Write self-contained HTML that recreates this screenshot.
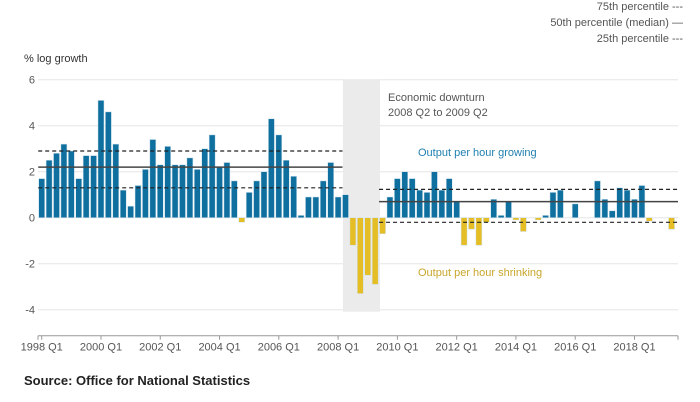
<!DOCTYPE html>
<html><head><meta charset="utf-8"><style>
html,body{margin:0;padding:0;background:#fff;width:700px;height:402px;overflow:hidden}
svg{display:block;font-family:"Liberation Sans",sans-serif}
</style></head><body>
<svg id="chart" width="700" height="402">
<g id="legend" font-size="11" fill="#555" text-anchor="end">
<text x="683" y="10">75th percentile ---</text>
<text x="683" y="26">50th percentile (median) —</text>
<text x="683" y="42">25th percentile ---</text>
</g>
<text x="24" y="62" font-size="11" fill="#333">% log growth</text>
<g id="grid"></g>
<g id="shade"></g>
<g id="bars"></g>
<g id="lines"></g>
<g id="axis"></g>
<text x="388" y="101" font-size="11" fill="#555">Economic downturn</text>
<text x="388" y="116" font-size="11" fill="#555">2008 Q2 to 2009 Q2</text>
<text x="418" y="156" font-size="11" fill="#1f7fb0">Output per hour growing</text>
<text x="418" y="276" font-size="11" fill="#c9a62a">Output per hour shrinking</text>
<text x="24" y="385" font-size="13" font-weight="bold" fill="#222">Source: Office for National Statistics</text>
</svg>
<script>
const values = [1.7,2.5,2.8,3.2,2.9,1.7,2.7,2.7,5.1,4.6,3.2,1.2,0.5,1.4,2.1,3.4,2.3,3.1,2.3,2.3,2.6,2.1,3.0,3.6,2.2,2.4,1.6,-0.2,1.1,1.6,
2.0,4.3,3.6,2.5,1.8,0.1,0.9,0.9,1.6,2.4,0.9,1.0,-1.2,-3.3,-2.5,-2.9,-0.7,0.9,1.7,2.0,1.7,1.2,1.1,2.0,1.2,1.7,
0.7,-1.2,-0.5,-1.2,-0.2,0.8,0.1,0.7,-0.1,-0.6,0,-0.1,0.1,1.1,1.2,0,0.6,0,0,1.6,0.8,0.3,1.3,1.2,0.8,1.4,-0.15,0,0,-0.5];
const yTicks = [6,4,2,0,-2,-4];
const xTickLabels = ["1998 Q1","2000 Q1","2002 Q1","2004 Q1","2006 Q1","2008 Q1","2010 Q1","2012 Q1","2014 Q1","2016 Q1","2018 Q1"];
const period1 = {start:0, end:41, p75:2.9, p50:2.2, p25:1.3};
const period2 = {start:46, end:85, p75:1.23, p50:0.7, p25:-0.2};
const downturn = [41,45];

const NS="http://www.w3.org/2000/svg";
const L=38,R=678,X0=41.7,STEP=7.41,Y0=217.7,UNIT=23,AXY=335.7;
const x=i=>X0+STEP*i, y=v=>Y0-v*UNIT;
function mk(t,a,p){const e=document.createElementNS(NS,t);for(const k in a)e.setAttribute(k,a[k]);p.appendChild(e);return e;}
const grid=document.getElementById('grid');
yTicks.forEach(v=>{
  const l=mk('line',{x1:L,x2:R,y1:y(v),y2:y(v),stroke:'#e6e6e6','stroke-width':1},grid);
  
  
  const t=mk('text',{x:35,y:y(v)+4,'text-anchor':'end','font-size':11,fill:'#555'},grid);
  t.textContent=v;
  
  
});
const sh=mk('rect',{x:x(downturn[0])-STEP*0.35,y:y(6),width:x(downturn[1])-x(downturn[0])+STEP*1.0,height:AXY-y(6)-24,fill:'#ebebeb'},document.getElementById('shade'));


const bars=document.getElementById('bars');
values.forEach((v,i)=>{
  if(v===0)return;
  const r=mk('rect',{x:x(i)-3,width:6,y:Math.min(y(v),Y0),height:Math.abs(y(v)-Y0),fill:v>0?'#0f6f9e':'#e5bd24',stroke:'#cfe3ee','stroke-width':0.5},bars);
  
  
});
const lines=document.getElementById('lines');
[period1,period2].forEach(p=>{
  const a=x(p.start)-3.5,b=p===period1?x(p.end)-3:R;
  [['p75',true],['p50',false],['p25',true]].forEach(([k,d])=>{
    const l=mk('line',{x1:a,x2:b,y1:y(p[k]),y2:y(p[k]),stroke:d?'#222':'#444','stroke-width':d?1.2:1.5},lines);
    if(d)l.setAttribute('stroke-dasharray','4,3');
    
    
  });
});
const ax=document.getElementById('axis');
const al=mk('line',{x1:L,x2:R,y1:AXY,y2:AXY,stroke:'#999'},ax);


mk('line',{x1:L,x2:L,y1:AXY,y2:AXY+4,stroke:'#999'},ax);
mk('line',{x1:R,x2:R,y1:AXY,y2:AXY+4,stroke:'#999'},ax);
xTickLabels.forEach((s,j)=>{
  const xx=x(j*8);
  mk('line',{x1:xx,x2:xx,y1:AXY,y2:AXY+4,stroke:'#999'},ax);
  const t=mk('text',{x:xx,y:AXY+15,'text-anchor':'middle','font-size':11,fill:'#555'},ax);
  t.textContent=s;
  
  
});
</script>
</body></html>
